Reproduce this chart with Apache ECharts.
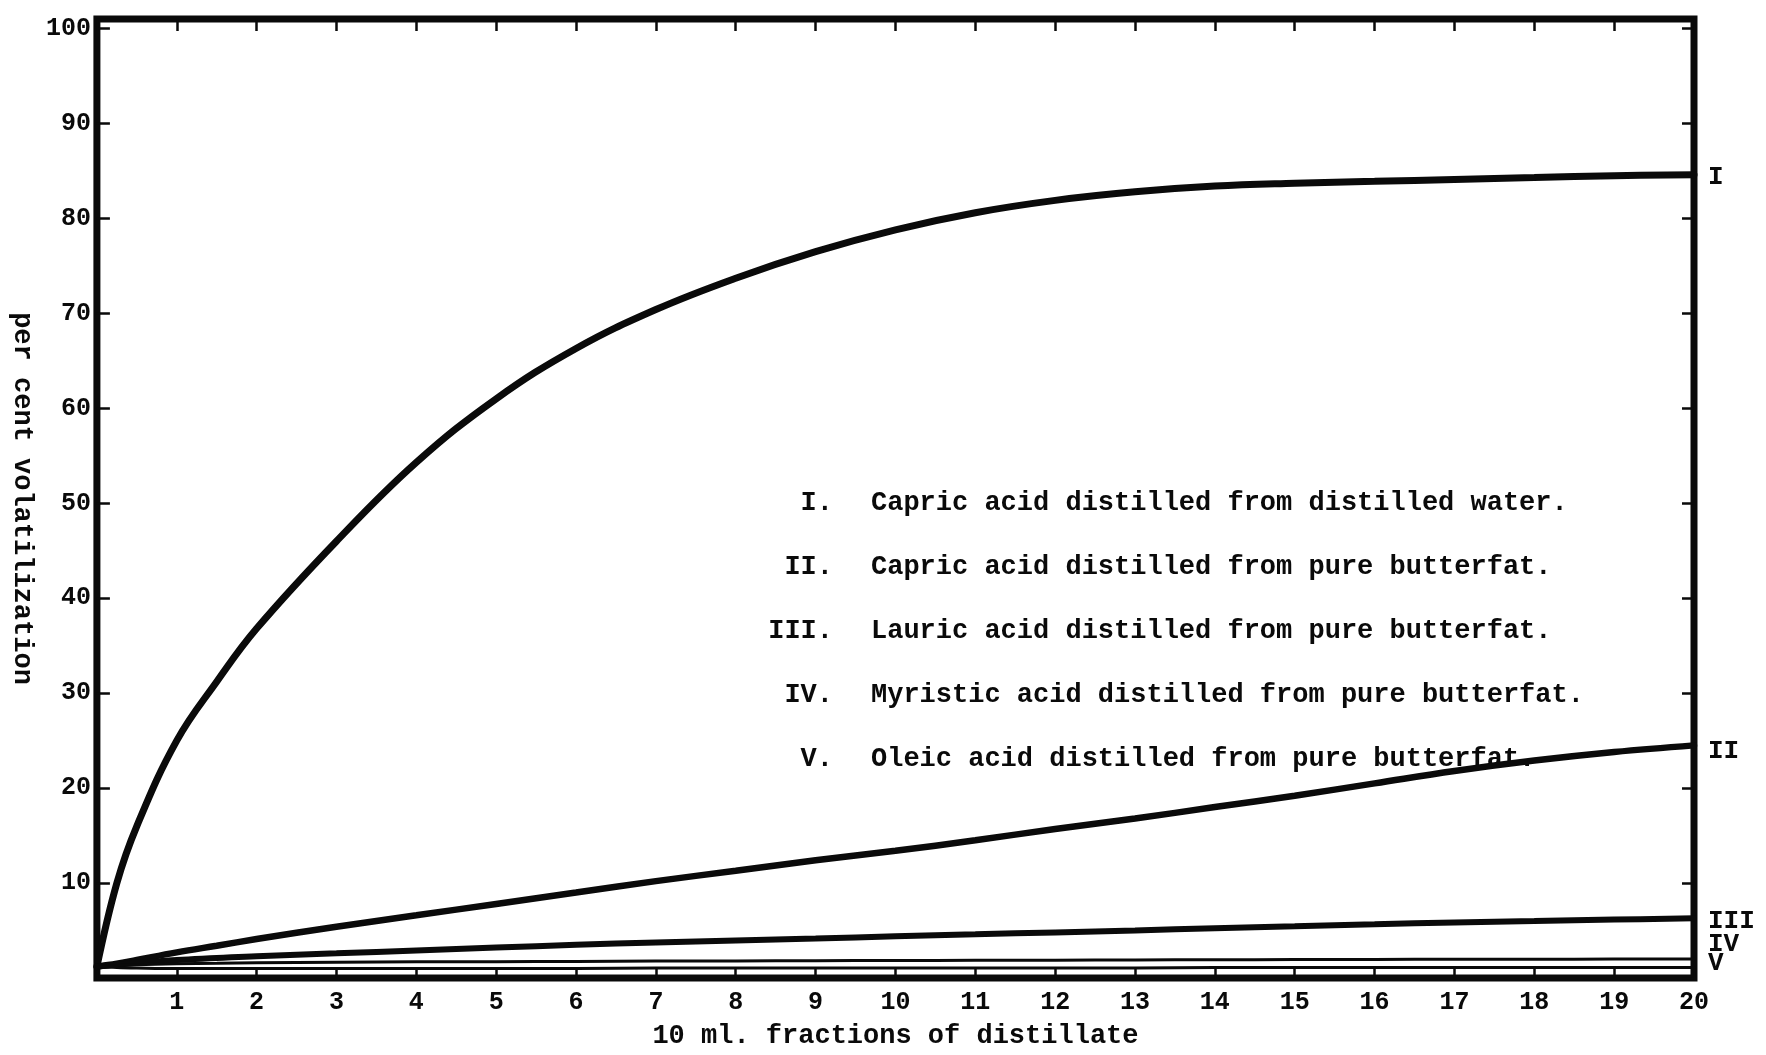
<!DOCTYPE html>
<html>
<head>
<meta charset="utf-8">
<title>per cent volatilization</title>
<script src="https://cdn.jsdelivr.net/npm/echarts@6/dist/echarts.min.js"></script>
<style>
  html, body { margin: 0; padding: 0; background: #fff; }
  #chart { width: 1766px; height: 1055px; }
</style>
</head>
<body>
<div id="chart"></div>
<script>
// 10 ml fractions
const fractions = [0, 0.25, 0.5, 1, 1.5, 2, 3, 4, 5, 6, 7, 8, 9, 10, 11, 12, 13, 14, 15, 16, 17, 18, 19, 20];

// per cent volatilization, one list per curve
const capricWater   = [1.2, 10, 16, 25, 31.2, 36.8, 46, 54.3, 61, 66.3, 70.4, 73.7, 76.5, 78.8, 80.6, 81.9, 82.8, 83.4, 83.7, 83.9, 84.1, 84.3, 84.5, 84.6];
const capricFat     = [1.2, 1.5, 1.9, 2.7, 3.4, 4.1, 5.4, 6.6, 7.8, 9.0, 10.2, 11.3, 12.4, 13.4, 14.5, 15.7, 16.8, 18.0, 19.2, 20.5, 21.8, 22.9, 23.8, 24.5];
const lauricFat     = [1.2, 1.4, 1.6, 1.9, 2.1, 2.3, 2.6, 2.9, 3.2, 3.5, 3.75, 3.95, 4.15, 4.4, 4.6, 4.8, 5.0, 5.25, 5.45, 5.65, 5.85, 6.0, 6.15, 6.3];
const myristicFat   = [1.2, 1.3, 1.4, 1.5, 1.55, 1.6, 1.65, 1.7, 1.72, 1.75, 1.78, 1.8, 1.82, 1.84, 1.86, 1.88, 1.9, 1.92, 1.94, 1.96, 1.97, 1.98, 1.99, 2.0];
const oleicFat      = [1.2, 1.1, 1.05, 1.0, 1.0, 1.0, 1.0, 1.0, 1.0, 1.0, 1.05, 1.05, 1.05, 1.05, 1.05, 1.05, 1.05, 1.1, 1.1, 1.1, 1.1, 1.1, 1.1, 1.1];

const numerals = ['I', 'II', 'III', 'IV', 'V'];
const descriptions = [
  'Capric acid distilled from distilled water.',
  'Capric acid distilled from pure butterfat.',
  'Lauric acid distilled from pure butterfat.',
  'Myristic acid distilled from pure butterfat.',
  'Oleic acid distilled from pure butterfat.'
];

const FONT = "'Liberation Mono', 'DejaVu Sans Mono', monospace";
const INK = '#0a0a0a';

const chart = echarts.init(document.getElementById('chart'));

const curves = [capricWater, capricFat, lauricFat, myristicFat, oleicFat];
const widths = [7, 6.5, 6, 3, 3];
const endOffsets = [[0, 3], [0, 6], [0, 3], [0, -15], [0, -4]];

const series = curves.map((vals, i) => ({
  name: numerals[i],
  type: 'line',
  smooth: 0.4,
  showSymbol: false,
  silent: true,
  data: fractions.map((x, k) => [x, vals[k]]),
  lineStyle: { color: INK, width: widths[i], cap: 'round' },
  z: 3,
  endLabel: {
    show: true,
    formatter: numerals[i],
    distance: 14,
    offset: endOffsets[i],
    fontFamily: FONT,
    fontWeight: 'bold',
    fontSize: 26,
    color: INK
  }
}));

const legendText = [];
numerals.forEach((n, i) => {
  legendText.push({
    type: 'text',
    x: 833,
    y: 503 + i * 64,
    style: {
      text: n + '.',
      font: 'bold 27px ' + FONT,
      fill: INK,
      textAlign: 'right',
      textVerticalAlign: 'middle',
      align: 'right',
      verticalAlign: 'middle'
    }
  });
  legendText.push({
    type: 'text',
    x: 871,
    y: 503 + i * 64,
    style: {
      text: descriptions[i],
      font: 'bold 27px ' + FONT,
      fill: INK,
      textAlign: 'left',
      textVerticalAlign: 'middle',
      align: 'left',
      verticalAlign: 'middle'
    }
  });
});

// ticks point into the frame on all four sides; onZero off so top/right axes stay on their edges
const ticks = len => ({ show: true, inside: true, length: len, lineStyle: { color: INK, width: 2.5 } });
const noLine = { show: false, onZero: false };

chart.setOption({
  backgroundColor: '#fff',
  animation: false,
  grid: {
    left: 91, right: 72, top: 19, bottom: 68,
    show: true, borderColor: INK, borderWidth: 7, backgroundColor: 'transparent'
  },
  xAxis: [{
    type: 'value',
    min: 0, max: 20, interval: 1,
    position: 'bottom',
    name: '10 ml. fractions of distillate',
    nameLocation: 'middle',
    nameGap: 45,
    nameTextStyle: { fontFamily: FONT, fontWeight: 'bold', fontSize: 27, color: INK },
    axisLine: noLine,
    axisTick: ticks(11),
    splitLine: { show: false },
    axisLabel: {
      margin: 12,
      fontFamily: FONT, fontWeight: 'bold', fontSize: 25, color: INK,
      formatter: v => (v === 0 ? '' : String(v))
    }
  }, {
    type: 'value',
    min: 0, max: 20, interval: 1,
    position: 'top',
    axisLine: noLine,
    axisTick: ticks(12),
    splitLine: { show: false },
    axisLabel: { show: false }
  }],
  yAxis: [{
    type: 'value',
    min: 0, max: 101, interval: 10,
    position: 'left',
    name: 'per cent volatilization',
    nameLocation: 'middle',
    nameRotate: -90,
    nameGap: 48,
    nameTextStyle: { fontFamily: FONT, fontWeight: 'bold', fontSize: 27, color: INK },
    axisLine: noLine,
    axisTick: ticks(13),
    splitLine: { show: false },
    axisLabel: {
      margin: 6,
      fontFamily: FONT, fontWeight: 'bold', fontSize: 25, color: INK,
      formatter: v => (v === 0 || v > 100 ? '' : String(v))
    }
  }, {
    type: 'value',
    min: 0, max: 101, interval: 10,
    position: 'right',
    axisLine: noLine,
    axisTick: ticks(12),
    splitLine: { show: false },
    axisLabel: { show: false }
  }],
  graphic: legendText,
  series: series
});
</script>
</body>
</html>
